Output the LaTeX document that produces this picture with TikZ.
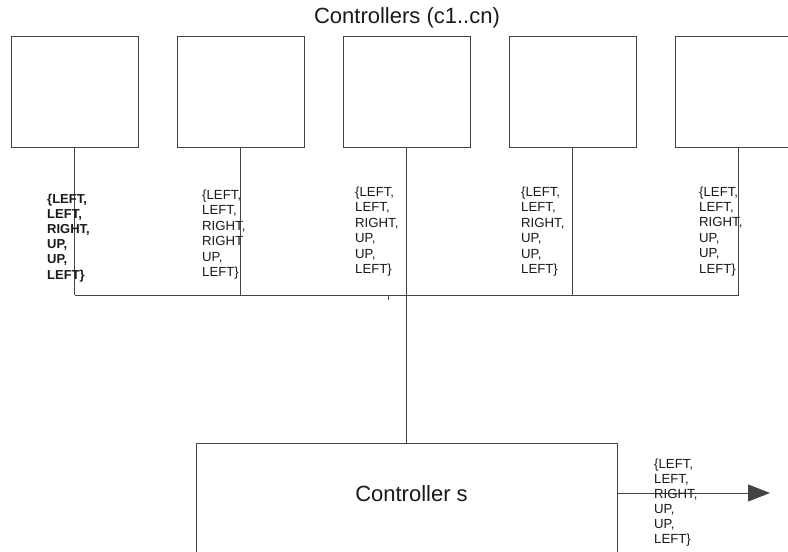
\documentclass[tikz,border=0pt]{standalone}
\usepackage{fontspec}
\setmainfont{Liberation Sans}
\usetikzlibrary{arrows.meta,calc}
\definecolor{linec}{HTML}{444444}
\definecolor{textc}{HTML}{1A1A1A}
\tikzset{
  ctrlbox/.style={draw=linec, line width=1pt, inner sep=0pt, outer sep=0pt, minimum width=127pt, minimum height=111pt},
  wire/.style={draw=linec, line width=1pt},
  lbl/.style={anchor=base west, inner sep=0pt, align=left, text=textc, font=\fontsize{13.2}{15.4}\selectfont},
  big/.style={inner sep=0pt, text=textc, font=\fontsize{22}{24}\selectfont}
}
\begin{document}
\begin{tikzpicture}[x=1pt,y=-1pt]
\useasboundingbox (0,0) rectangle (788,552);
\clip (0,0) rectangle (788,552);
\fill[white] (0,0) rectangle (788,552);
\node[big, anchor=base] (title) at (407,23) {Controllers (c1..cn)};
\node[ctrlbox] (c1) at (74.5,91.5) {};
\node[ctrlbox] (c2) at (240.5,91.5) {};
\node[ctrlbox] (c3) at (406.5,91.5) {};
\node[ctrlbox] (c4) at (572.5,91.5) {};
\node[ctrlbox] (c5) at (738.5,91.5) {};
\node[draw=linec, line width=1pt, inner sep=0pt, outer sep=0pt, minimum width=421pt, minimum height=120pt] (cs) at (406.5,503) {};
\node[big, anchor=base] (cstext) at (411.5,501) {Controller s};
\coordinate (bus) at (0,295);
\coordinate (j1) at (c1.south |- bus);
\coordinate (j2) at (c2.south |- bus);
\coordinate (j3) at (c3.south |- bus);
\coordinate (j4) at (c4.south |- bus);
\coordinate (j5) at (c5.south |- bus);
\draw[wire] (c1.south) -- (j1);
\draw[wire] (c2.south) -- (j2);
\draw[wire] (c3.south) -- (j3);
\draw[wire] (c4.south) -- (j4);
\draw[wire] (c5.south) -- (j5);
\draw[wire] (j1) -- (j5);
\draw[wire] (j3) -- (cs.north);
\coordinate (tk1) at (388,296);
\coordinate (tk2) at (388,299.5);
\draw[linec, line width=0.8pt] (tk1) -- (tk2);
\coordinate (arrend) at (770,493);
\draw[wire, -{Triangle[length=22pt,width=17pt]}] (cs.east |- arrend) -- (arrend);
\node[lbl, font=\bfseries\fontsize{13}{15.2}\selectfont] (l1) at (47,279) {\{LEFT,\\LEFT,\\RIGHT,\\UP,\\UP,\\LEFT\}};
\node[lbl] (l2) at (202,276.5) {\{LEFT,\\LEFT,\\RIGHT,\\RIGHT\\UP,\\LEFT\}};
\node[lbl] (l3) at (355,273.5) {\{LEFT,\\LEFT,\\RIGHT,\\UP,\\UP,\\LEFT\}};
\node[lbl] (l4) at (521,273.5) {\{LEFT,\\LEFT,\\RIGHT,\\UP,\\UP,\\LEFT\}};
\node[lbl] (l5) at (699,273) {\{LEFT,\\LEFT,\\RIGHT,\\UP,\\UP,\\LEFT\}};
\node[lbl, font=\fontsize{13.2}{14.9}\selectfont] (l6) at (654,543) {\{LEFT,\\LEFT,\\RIGHT,\\UP,\\UP,\\LEFT\}};
\end{tikzpicture}
\end{document}
